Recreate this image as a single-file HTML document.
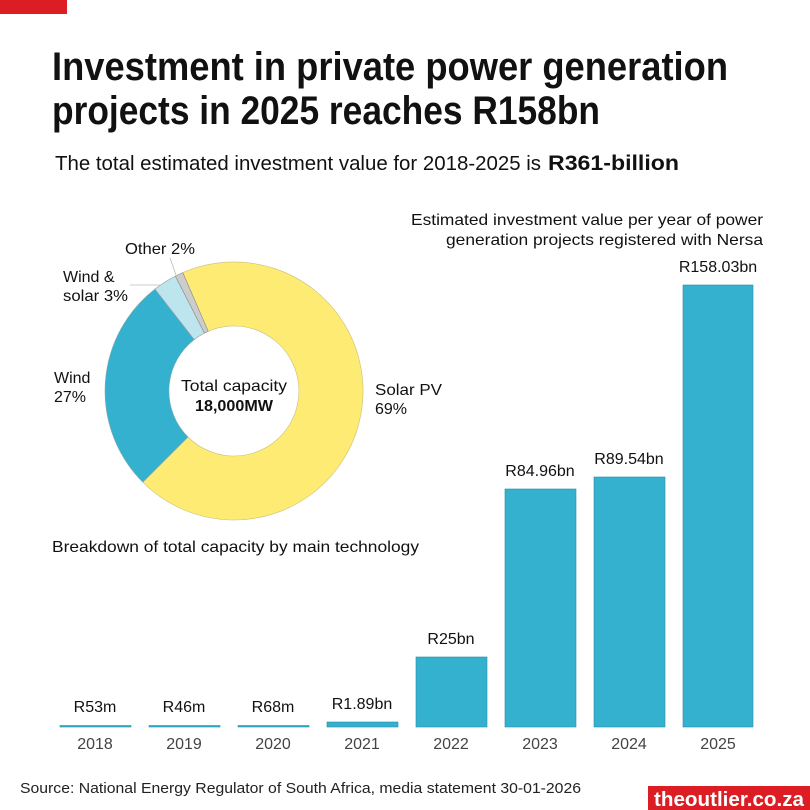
<!DOCTYPE html>
<html><head><meta charset="utf-8"><style>
html,body{margin:0;padding:0;background:#fff;}
svg{display:block;font-family:"Liberation Sans",sans-serif;}
</style></head><body>
<svg width="810" height="810" viewBox="0 0 810 810">
<rect x="0" y="0" width="67" height="14" fill="#dc1d23"/>
<text x="52" y="80" font-size="40" font-weight="bold" fill="#111" textLength="676" lengthAdjust="spacingAndGlyphs">Investment in private power generation</text>
<text x="52" y="124" font-size="40" font-weight="bold" fill="#111" textLength="548" lengthAdjust="spacingAndGlyphs">projects in 2025 reaches R158bn</text>
<text x="55" y="170" font-size="20" fill="#111" textLength="486" lengthAdjust="spacingAndGlyphs">The total estimated investment value for 2018-2025 is</text>
<text x="548" y="170" font-size="21" font-weight="bold" fill="#111" textLength="131" lengthAdjust="spacingAndGlyphs">R361-billion</text>

<!-- donut -->
<path d="M182.8,272.6 A129,129 0 1 1 142.8,482.2 L188,437 A65,65 0 1 0 208.2,331.3 Z" fill="#feeb74" stroke="#c9bf7a" stroke-width="0.6"/>
<path d="M142.8,482.2 A129,129 0 0 1 154.9,289.1 L194.2,339.6 A65,65 0 0 0 188,437 Z" fill="#33b1cf" stroke="#8aa" stroke-width="0.6"/>
<path d="M154.9,289.1 A129,129 0 0 1 175.4,276.1 L204.5,333.1 A65,65 0 0 0 194.2,339.6 Z" fill="#bde5ee" stroke="#999" stroke-width="0.6"/>
<path d="M175.4,276.1 A129,129 0 0 1 182.8,272.6 L208.2,331.3 A65,65 0 0 0 204.5,333.1 Z" fill="#cccccc" stroke="#888" stroke-width="0.6"/>
<line x1="130" y1="285" x2="160" y2="285" stroke="#bbb" stroke-width="0.8"/>
<line x1="170" y1="258" x2="176" y2="275" stroke="#bbb" stroke-width="0.8"/>
<text x="234" y="391" font-size="16" fill="#111" text-anchor="middle" textLength="106" lengthAdjust="spacingAndGlyphs">Total capacity</text>
<text x="234" y="411" font-size="16" font-weight="bold" fill="#111" text-anchor="middle" textLength="78" lengthAdjust="spacingAndGlyphs">18,000MW</text>
<text x="125" y="254" font-size="16" fill="#111" textLength="70" lengthAdjust="spacingAndGlyphs">Other 2%</text>
<text x="63" y="282" font-size="16" fill="#111">Wind &amp;</text>
<text x="63" y="301" font-size="16" fill="#111" textLength="65" lengthAdjust="spacingAndGlyphs">solar 3%</text>
<text x="54" y="383" font-size="16" fill="#111">Wind</text>
<text x="54" y="402" font-size="16" fill="#111">27%</text>
<text x="375" y="395" font-size="16" fill="#111" textLength="67" lengthAdjust="spacingAndGlyphs">Solar PV</text>
<text x="375" y="414" font-size="16" fill="#111">69%</text>
<text x="52" y="552" font-size="16" fill="#111" textLength="367" lengthAdjust="spacingAndGlyphs">Breakdown of total capacity by main technology</text>

<text x="763" y="225" font-size="16" fill="#111" text-anchor="end" textLength="352" lengthAdjust="spacingAndGlyphs">Estimated investment value per year of power</text>
<text x="763" y="245" font-size="16" fill="#111" text-anchor="end" textLength="317" lengthAdjust="spacingAndGlyphs">generation projects registered with Nersa</text>

<!-- bars -->
<g fill="#33b1cf" stroke="#2a8ea6" stroke-width="0.6">
<rect x="60" y="725.5" width="71" height="1.5"/>
<rect x="149" y="725.5" width="71" height="1.5"/>
<rect x="238" y="725.5" width="71" height="1.5"/>
<rect x="327" y="722" width="71" height="5"/>
<rect x="416" y="657" width="71" height="70"/>
<rect x="505" y="489" width="71" height="238"/>
<rect x="594" y="477" width="71" height="250"/>
<rect x="683" y="285" width="70" height="442"/>
</g>
<g font-size="16" fill="#111" text-anchor="middle">
<text x="95" y="712">R53m</text>
<text x="184" y="712">R46m</text>
<text x="273" y="712">R68m</text>
<text x="362" y="709">R1.89bn</text>
<text x="451" y="644">R25bn</text>
<text x="540" y="476">R84.96bn</text>
<text x="629" y="464">R89.54bn</text>
<text x="718" y="272">R158.03bn</text>
</g>
<g font-size="16" fill="#444" text-anchor="middle">
<text x="95" y="749">2018</text>
<text x="184" y="749">2019</text>
<text x="273" y="749">2020</text>
<text x="362" y="749">2021</text>
<text x="451" y="749">2022</text>
<text x="540" y="749">2023</text>
<text x="629" y="749">2024</text>
<text x="718" y="749">2025</text>
</g>
<text x="20" y="793" font-size="15" fill="#222" textLength="561" lengthAdjust="spacingAndGlyphs">Source: National Energy Regulator of South Africa, media statement 30-01-2026</text>
<rect x="648" y="786" width="162" height="24" fill="#dc1d23"/>
<text x="729" y="806" font-size="20" font-weight="bold" fill="#fff" text-anchor="middle" textLength="150" lengthAdjust="spacingAndGlyphs">theoutlier.co.za</text>
</svg>
</body></html>
